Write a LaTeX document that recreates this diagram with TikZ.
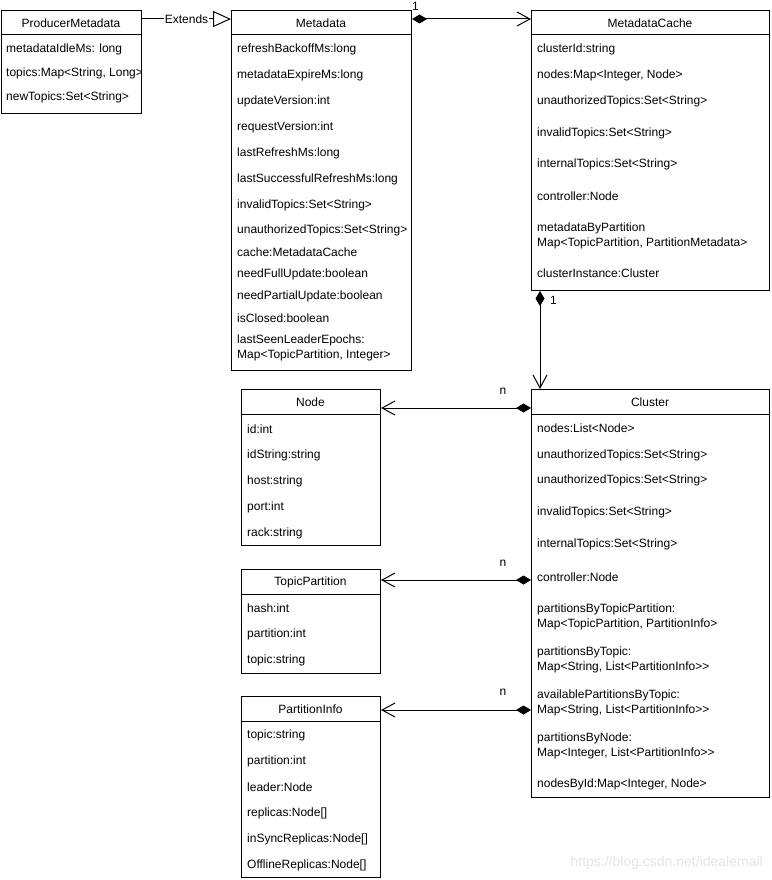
\documentclass[tikz,border=0pt]{standalone}
\usepackage{fontspec}
\setmainfont{Liberation Sans}
\usetikzlibrary{arrows.meta}
\newcommand\umlfont{\fontsize{12}{14.5}\selectfont}
\begin{document}
\begin{tikzpicture}[x=1pt,y=-1pt,
  box/.style={draw, line width=1pt, fill=white, anchor=north west, inner sep=0pt},
  hdr/.style={font=\umlfont, inner sep=0pt},
  attr/.style={font=\umlfont, anchor=west, inner sep=0pt, align=left},
  lbl/.style={font=\umlfont, inner sep=0pt},
  sep/.style={line width=1pt},
  conn/.style={line width=1pt},
  comp/.style={conn, {Diamond[length=15pt,width=9pt]}-{Straight Barb[length=13pt,width=14pt]}}]
\useasboundingbox[fill=white] (0,0) rectangle (771,880);

% ---------- ProducerMetadata ----------
\node[box, minimum width=140pt, minimum height=103pt] (pm) at (1,10) {};
\coordinate (hA) at (0,35);
\draw[sep] (pm.west |- hA) -- (pm.east |- hA);
\node[hdr] (pmh) at (71,23) {ProducerMetadata};
\node[attr] (pm1) at (6,49) {metadataIdleMs: long};
\begin{scope}
  \clip (1,36) rectangle (140.4,112);
  \node[attr] (pm2) at (6,73) {topics:Map<String, Long>};
\end{scope}
\node[attr] (pm3) at (6,97) {newTopics:Set<String>};

% ---------- Metadata ----------
\node[box, minimum width=180pt, minimum height=360pt] (meta) at (231,10) {};
\draw[sep] (meta.west |- hA) -- (meta.east |- hA);
\node[hdr] (mh) at (321,23) {Metadata};
\node[attr] (m1) at (237,49) {refreshBackoffMs:long};
\node[attr] (m2) at (237,75) {metadataExpireMs:long};
\node[attr] (m3) at (237,101) {updateVersion:int};
\node[attr] (m4) at (237,127) {requestVersion:int};
\node[attr] (m5) at (237,153) {lastRefreshMs:long};
\node[attr] (m6) at (237,179) {lastSuccessfulRefreshMs:long};
\node[attr] (m7) at (237,205) {invalidTopics:Set<String>};
\node[attr] (m8) at (237,230) {unauthorizedTopics:Set<String>};
\node[attr] (m9) at (237,252) {cache:MetadataCache};
\node[attr] (m10) at (237,274) {needFullUpdate:boolean};
\node[attr] (m11) at (237,296) {needPartialUpdate:boolean};
\node[attr] (m12) at (237,318) {isClosed:boolean};
\node[attr] (m13) at (237,348) {lastSeenLeaderEpochs:\\Map<TopicPartition, Integer>};

% ---------- MetadataCache ----------
\node[box, minimum width=238pt, minimum height=280pt] (cache) at (531,10) {};
\draw[sep] (cache.west |- hA) -- (cache.east |- hA);
\node[hdr] (ch) at (650,23) {MetadataCache};
\node[attr] (c1) at (537,49) {clusterId:string};
\node[attr] (c2) at (537,75) {nodes:Map<Integer, Node>};
\node[attr] (c3) at (537,101) {unauthorizedTopics:Set<String>};
\node[attr] (c4) at (537,133) {invalidTopics:Set<String>};
\node[attr] (c5) at (537,164) {internalTopics:Set<String>};
\node[attr] (c6) at (537,196) {controller:Node};
\node[attr] (c7) at (537,236) {metadataByPartition\\Map<TopicPartition, PartitionMetadata>};
\node[attr] (c8) at (537,273) {clusterInstance:Cluster};

% ---------- Cluster ----------
\node[box, minimum width=238pt, minimum height=408pt] (cl) at (531,389) {};
\coordinate (hB) at (0,414);
\draw[sep] (cl.west |- hB) -- (cl.east |- hB);
\node[hdr] (clh) at (650,402) {Cluster};
\node[attr] (k1) at (537,428) {nodes:List<Node>};
\node[attr] (k2) at (537,455) {unauthorizedTopics:Set<String>};
\node[attr] (k3) at (537,480) {unauthorizedTopics:Set<String>};
\node[attr] (k4) at (537,512) {invalidTopics:Set<String>};
\node[attr] (k5) at (537,544) {internalTopics:Set<String>};
\node[attr] (k6) at (537,577) {controller:Node};
\node[attr] (k7) at (537,617) {partitionsByTopicPartition:\\Map<TopicPartition, PartitionInfo>};
\node[attr] (k8) at (537,660) {partitionsByTopic:\\Map<String, List<PartitionInfo>{}>};
\node[attr] (k9) at (537,703) {availablePartitionsByTopic:\\Map<String, List<PartitionInfo>{}>};
\node[attr] (k10) at (537,746) {partitionsByNode:\\Map<Integer, List<PartitionInfo>{}>};
\node[attr] (k11) at (537,784) {nodesById:Map<Integer, Node>};

% ---------- Node ----------
\node[box, minimum width=139pt, minimum height=156pt] (nd) at (241,389) {};
\draw[sep] (nd.west |- hB) -- (nd.east |- hB);
\node[hdr] (ndh) at (310.5,402) {Node};
\node[attr] (n1) at (247,429) {id:int};
\node[attr] (n2) at (247,455) {idString:string};
\node[attr] (n3) at (247,481) {host:string};
\node[attr] (n4) at (247,507) {port:int};
\node[attr] (n5) at (247,533) {rack:string};

% ---------- TopicPartition ----------
\node[box, minimum width=139pt, minimum height=104pt] (tp) at (241,569) {};
\coordinate (hC) at (0,594);
\draw[sep] (tp.west |- hC) -- (tp.east |- hC);
\node[hdr] (tph) at (310.5,582) {TopicPartition};
\node[attr] (t1) at (247,608) {hash:int};
\node[attr] (t2) at (247,634) {partition:int};
\node[attr] (t3) at (247,660) {topic:string};

% ---------- PartitionInfo ----------
\node[box, minimum width=139pt, minimum height=181pt] (pi) at (241,696) {};
\coordinate (hD) at (0,721);
\draw[sep] (pi.west |- hD) -- (pi.east |- hD);
\node[hdr] (pih) at (310.5,709) {PartitionInfo};
\node[attr] (p1) at (247,735) {topic:string};
\node[attr] (p2) at (247,761) {partition:int};
\node[attr] (p3) at (247,787) {leader:Node};
\node[attr] (p4) at (247,813) {replicas:Node[]};
\node[attr] (p5) at (247,839) {inSyncReplicas:Node[]};
\node[attr] (p6) at (247,865) {OfflineReplicas:Node[]};

% ---------- connectors ----------
\coordinate (yE) at (0,19);
\draw[conn, -{Triangle[open,length=18pt,width=16pt,fill=white]}] (pm.east |- yE) -- (meta.west |- yE)
  node[pos=0.5, lbl, fill=white, inner xsep=1pt] (ext) {Extends};

\draw[comp] (meta.east |- yE) -- (cache.west |- yE);
\node[lbl, anchor=west] (l1) at (412,6) {1};

\coordinate (xV) at (540,0);
\draw[comp] (cache.south -| xV) -- (cl.north -| xV);
\node[lbl, anchor=west] (l2) at (550,300) {1};

\coordinate (yN) at (0,408);
\draw[comp] (cl.west |- yN) -- (nd.east |- yN);
\node[lbl] (l3) at (503,391) {n};

\coordinate (yT) at (0,580);
\draw[comp] (cl.west |- yT) -- (tp.east |- yT);
\node[lbl] (l4) at (503,563) {n};

\coordinate (yP) at (0,710);
\draw[comp] (cl.west |- yP) -- (pi.east |- yP);
\node[lbl] (l5) at (503,692) {n};

% watermark
\node[font=\fontsize{14}{16}\selectfont, text=black!10, anchor=east, inner sep=0pt] (wm) at (763,863) {https://blog.csdn.net/idealemail};
\end{tikzpicture}
\end{document}
